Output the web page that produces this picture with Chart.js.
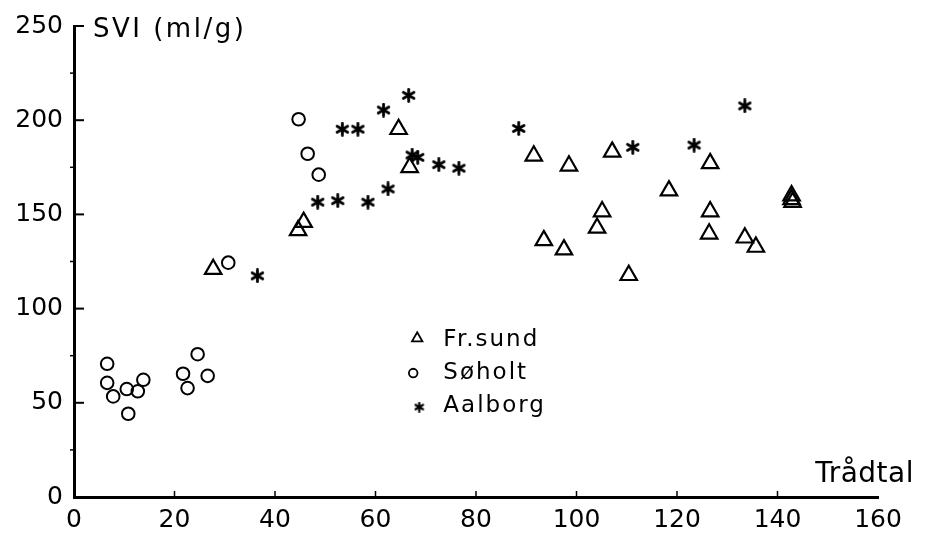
<!DOCTYPE html>
<html>
<head>
<meta charset="utf-8">
<script src="https://cdn.jsdelivr.net/npm/chart.js@4.4.1/dist/chart.umd.min.js"></script>
<style>
    html, body { margin: 0; padding: 0; background: #fff; }
    #wrap { width: 939px; height: 535px; }
</style>
</head>
<body>
<div id="wrap"><canvas id="svi" width="939" height="535"></canvas></div>
<script>
// Trådtal (x) og SVI (y) pr. anlæg
const frsundX = [27.7, 44.6, 45.7, 64.6, 66.8, 91.5, 93.5, 97.5, 98.5, 104.1, 105.1, 107.1, 110.4, 118.4, 126.4, 126.6, 126.6, 133.5, 135.7, 142.8, 142.8, 143.0];
const frsundY = [120.9, 141.5, 145.9, 195.2, 175.0, 181.1, 136.2, 131.3, 175.8, 142.8, 151.5, 183.2, 117.7, 162.6, 139.7, 151.5, 177.1, 137.6, 132.7, 160.0, 158.0, 156.5];

const soholtX = [6.6, 6.6, 7.8, 10.5, 10.8, 12.7, 13.8, 21.7, 22.6, 24.6, 26.6, 30.7, 44.7, 46.5, 48.7];
const soholtY = [70.7, 60.6, 53.4, 57.3, 44.2, 56.1, 62.2, 65.4, 57.8, 75.8, 64.3, 124.4, 200.5, 182.2, 171.1];

const aalborgX = [36.5, 48.5, 52.5, 53.4, 56.5, 58.5, 61.6, 62.5, 66.6, 67.3, 68.4, 72.6, 76.6, 88.5, 111.2, 123.4, 133.5];
const aalborgY = [117.4, 156.5, 157.3, 195.2, 195.2, 156.5, 205.4, 163.5, 213.2, 181.5, 180.3, 176.4, 174.5, 195.6, 185.6, 186.8, 207.6];

const seriesNames = ['Fr.sund', 'Søholt', 'Aalborg'];
const xTickValues = [0, 20, 40, 60, 80, 100, 120, 140, 160];
const yTickValues = [0, 50, 100, 150, 200, 250];
const xTitle = 'Trådtal';
const yTitle = 'SVI (ml/g)';

const toPoints = (xs, ys) => xs.map((x, i) => ({ x: x, y: ys[i] }));

// 6-armet stjerne som punktsymbol
function makeStar(size, lw) {
    const c = document.createElement('canvas');
    c.width = size;
    c.height = size;
    const g = c.getContext('2d');
    g.strokeStyle = '#000';
    g.lineWidth = lw;
    g.lineCap = 'round';
    g.translate(size / 2, size / 2);
    const r = size / 2 - lw / 2;
    for (let i = 0; i < 3; i++) {
        const a = Math.PI / 2 + i * Math.PI / 3;
        g.beginPath();
        g.moveTo(Math.cos(a) * r, Math.sin(a) * r);
        g.lineTo(-Math.cos(a) * r, -Math.sin(a) * r);
        g.stroke();
    }
    // lille fyldt midte, som i det trykte plot
    g.beginPath();
    g.arc(0, 0, lw * 0.9, 0, Math.PI * 2);
    g.fillStyle = '#000';
    g.fill();
    return c;
}

const starBig = makeStar(15, 2.8);
const starSmall = makeStar(11, 2.2);

const font = '"DejaVu Sans", sans-serif';

// akser, tekster og forklaring
const decorations = {
    id: 'decorations',
    afterDraw(chart) {
        const ctx = chart.ctx;
        const a = chart.chartArea;
        const xs = chart.scales.x;
        const ys = chart.scales.y;
        ctx.save();
        ctx.strokeStyle = '#000';
        ctx.fillStyle = '#000';
        ctx.lineWidth = 2;

        // store streger på y-aksen, indad
        yTickValues.forEach(v => {
            if (v === 0) return;
            const py = ys.getPixelForValue(v);
            ctx.beginPath();
            ctx.moveTo(a.left, py);
            ctx.lineTo(a.left + 10, py);
            ctx.stroke();
        });
        // små mellemstreger
        ctx.lineWidth = 1.5;
        for (let v = 25; v < 250; v += 50) {
            const py = ys.getPixelForValue(v);
            ctx.beginPath();
            ctx.moveTo(a.left - 4, py);
            ctx.lineTo(a.left, py);
            ctx.stroke();
        }
        // streger på x-aksen
        xTickValues.forEach(v => {
            if (v === 0 || v === 160) return;
            const px = xs.getPixelForValue(v);
            ctx.beginPath();
            ctx.moveTo(px, a.bottom);
            ctx.lineTo(px, a.bottom - 6);
            ctx.stroke();
        });

        // aksetitler
        ctx.textAlign = 'left';
        ctx.textBaseline = 'alphabetic';
        ctx.font = '26px ' + font;
        ctx.letterSpacing = '2.5px';
        ctx.fillText(yTitle, a.left + 19, a.top + 11);
        ctx.font = '28px ' + font;
        ctx.letterSpacing = '0.5px';
        ctx.fillText(xTitle, xs.getPixelForValue(147.5), a.bottom - 15);

        // forklaring
        const symX = xs.getPixelForValue(68.3);
        const txtX = xs.getPixelForValue(73.5);
        const rows = [80, 62.6, 45.1];
        ctx.font = '23px ' + font;
        ctx.letterSpacing = '2px';
        rows.forEach((v, i) => {
            const base = ys.getPixelForValue(v);
            const cy = base - 8;
            ctx.lineWidth = 1.8;
            if (i === 0) {
                const r = 6;
                ctx.beginPath();
                ctx.moveTo(symX, cy - r);
                ctx.lineTo(symX + r * 0.866, cy + r * 0.5);
                ctx.lineTo(symX - r * 0.866, cy + r * 0.5);
                ctx.closePath();
                ctx.stroke();
            } else if (i === 1) {
                ctx.beginPath();
                ctx.arc(symX - 4, cy + 2, 4.3, 0, Math.PI * 2);
                ctx.stroke();
            } else {
                ctx.drawImage(starSmall, symX + 2 - starSmall.width / 2, cy + 3 - starSmall.height / 2);
            }
            ctx.fillText(seriesNames[i], txtX, base);
        });
        ctx.restore();
    }
};

new Chart(document.getElementById('svi'), {
    type: 'scatter',
    data: {
        datasets: [{
            label: seriesNames[0],
            data: toPoints(frsundX, frsundY),
            pointStyle: 'triangle',
            pointRadius: 9.5,
            borderWidth: 2.2,
            borderColor: '#000',
            backgroundColor: 'rgba(0,0,0,0)'
        }, {
            label: seriesNames[1],
            data: toPoints(soholtX, soholtY),
            pointStyle: 'circle',
            pointRadius: 6.3,
            borderWidth: 2,
            borderColor: '#000',
            backgroundColor: 'rgba(0,0,0,0)'
        }, {
            label: seriesNames[2],
            data: toPoints(aalborgX, aalborgY),
            pointStyle: starBig,
            pointRadius: 7,
            borderColor: '#000',
            backgroundColor: '#000'
        }]
    },
    options: {
        responsive: false,
        animation: false,
        events: [],
        layout: { padding: { top: 25, right: 61, left: 0, bottom: 0 } },
        plugins: {
            legend: { display: false },
            tooltip: { enabled: false }
        },
        scales: {
            x: {
                type: 'linear',
                min: 0,
                max: 160,
                afterFit: (s) => { s.height = 38; },
                afterBuildTicks: (s) => { s.ticks = xTickValues.map(v => ({ value: v })); },
                grid: { display: false, drawTicks: false },
                border: { display: true, color: '#000', width: 3 },
                ticks: { color: '#000', padding: 8, font: { family: font, size: 25 } }
            },
            y: {
                type: 'linear',
                min: 0,
                max: 250,
                afterFit: (s) => { s.width = 74; },
                afterBuildTicks: (s) => { s.ticks = yTickValues.map(v => ({ value: v })); },
                grid: { display: false, drawTicks: false },
                border: { display: true, color: '#000', width: 3 },
                ticks: { color: '#000', padding: 11, font: { family: font, size: 25 } }
            }
        }
    },
    plugins: [decorations]
});
</script>
</body>
</html>
